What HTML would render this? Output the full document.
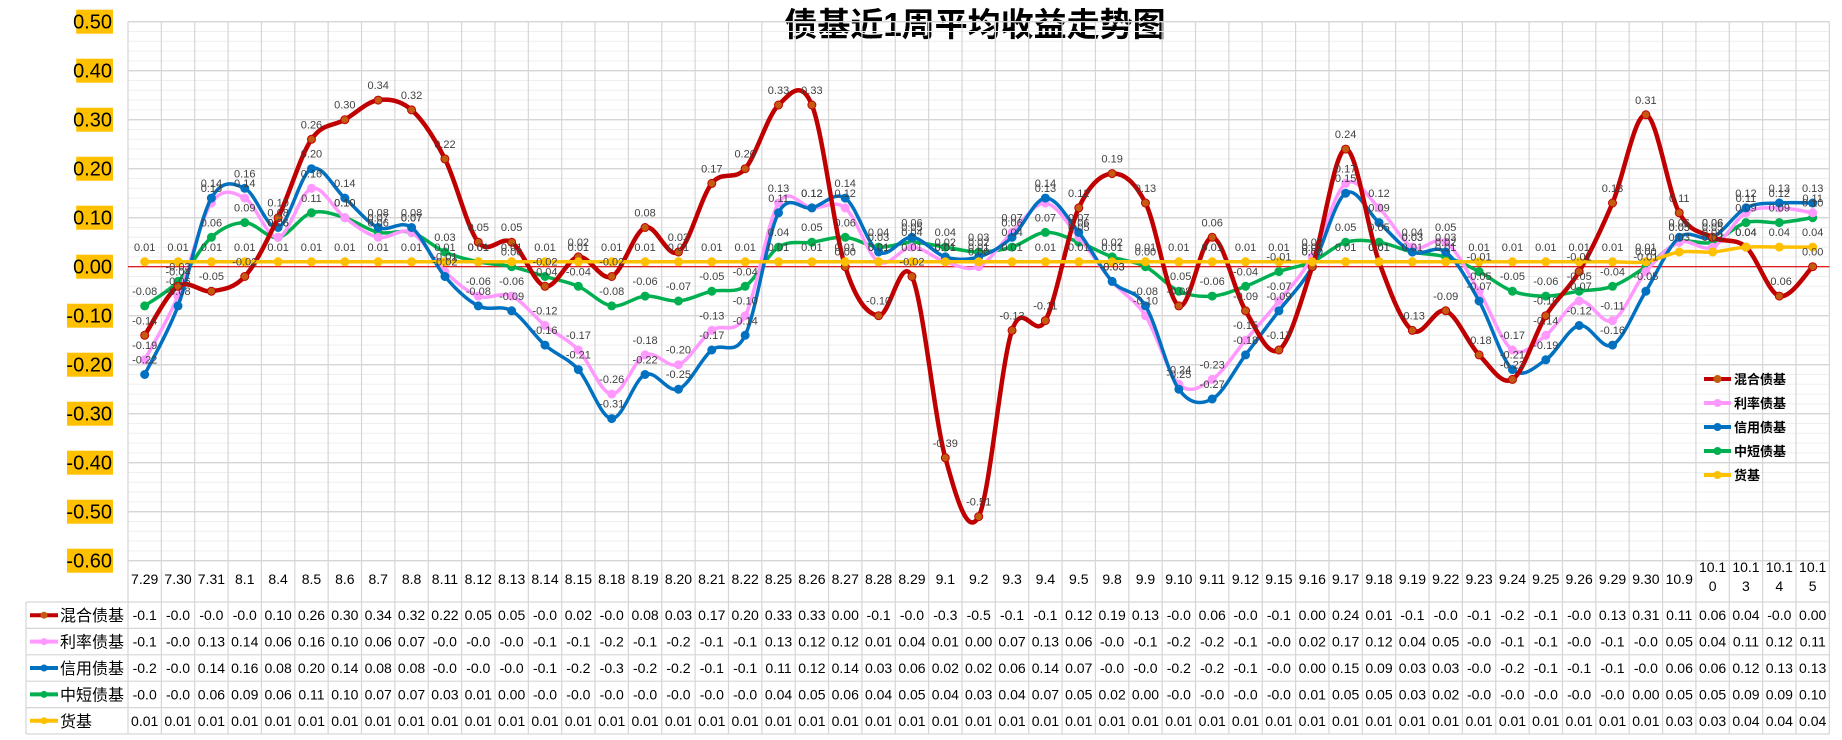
<!DOCTYPE html>
<html><head><meta charset="utf-8">
<style>
html,body{margin:0;padding:0;background:#fff;}
svg{display:block;font-family:"Liberation Sans","Noto Sans CJK SC",sans-serif;}
</style></head>
<body>
<svg id="chart" width="1842" height="740" viewBox="0 0 1842 740" xmlns="http://www.w3.org/2000/svg">
<text x="975" y="36" text-anchor="middle" font-size="33" font-weight="bold" fill="#000" font-family="'Liberation Sans','Noto Sans CJK SC',sans-serif">债基近1周平均收益走势图</text>
<g id="grid"></g><g id="yaxis"></g><g id="series"></g><g id="labels"></g><g id="legend"></g><g id="table"></g>
</svg>
<script>
const categories=["7.29","7.30","7.31","8.1","8.4","8.5","8.6","8.7","8.8","8.11","8.12","8.13","8.14","8.15","8.18","8.19","8.20","8.21","8.22","8.25","8.26","8.27","8.28","8.29","9.1","9.2","9.3","9.4","9.5","9.8","9.9","9.10","9.11","9.12","9.15","9.16","9.17","9.18","9.19","9.22","9.23","9.24","9.25","9.26","9.29","9.30","10.9","10.10","10.13","10.14","10.15"];
const mixedBond=[-0.14,-0.04,-0.05,-0.02,0.10,0.26,0.30,0.34,0.32,0.22,0.05,0.05,-0.04,0.02,-0.02,0.08,0.03,0.17,0.20,0.33,0.33,0.00,-0.10,-0.02,-0.39,-0.51,-0.13,-0.11,0.12,0.19,0.13,-0.08,0.06,-0.09,-0.17,0.00,0.24,0.01,-0.13,-0.09,-0.18,-0.23,-0.10,-0.01,0.13,0.31,0.11,0.06,0.04,-0.06,0.00];
const rateBond=[-0.19,-0.06,0.13,0.14,0.06,0.16,0.10,0.06,0.07,-0.01,-0.06,-0.06,-0.12,-0.17,-0.26,-0.18,-0.20,-0.13,-0.10,0.13,0.12,0.12,0.01,0.04,0.01,0.00,0.07,0.13,0.06,-0.03,-0.10,-0.24,-0.23,-0.15,-0.07,0.02,0.17,0.12,0.04,0.05,-0.05,-0.17,-0.14,-0.07,-0.11,-0.01,0.05,0.04,0.11,0.12,0.11];
const creditBond=[-0.22,-0.08,0.14,0.16,0.08,0.20,0.14,0.08,0.08,-0.02,-0.08,-0.09,-0.16,-0.21,-0.31,-0.22,-0.25,-0.17,-0.14,0.11,0.12,0.14,0.03,0.06,0.02,0.02,0.06,0.14,0.07,-0.03,-0.08,-0.25,-0.27,-0.18,-0.09,0.00,0.15,0.09,0.03,0.03,-0.07,-0.21,-0.19,-0.12,-0.16,-0.05,0.06,0.06,0.12,0.13,0.13];
const shortBond=[-0.08,-0.03,0.06,0.09,0.06,0.11,0.10,0.07,0.07,0.03,0.01,0.00,-0.02,-0.04,-0.08,-0.06,-0.07,-0.05,-0.04,0.04,0.05,0.06,0.04,0.05,0.04,0.03,0.04,0.07,0.05,0.02,0.00,-0.05,-0.06,-0.04,-0.01,0.01,0.05,0.05,0.03,0.02,-0.01,-0.05,-0.06,-0.05,-0.04,0.00,0.05,0.05,0.09,0.09,0.10];
const moneyFund=[0.01,0.01,0.01,0.01,0.01,0.01,0.01,0.01,0.01,0.01,0.01,0.01,0.01,0.01,0.01,0.01,0.01,0.01,0.01,0.01,0.01,0.01,0.01,0.01,0.01,0.01,0.01,0.01,0.01,0.01,0.01,0.01,0.01,0.01,0.01,0.01,0.01,0.01,0.01,0.01,0.01,0.01,0.01,0.01,0.01,0.01,0.03,0.03,0.04,0.04,0.04];
const seriesNames=["混合债基","利率债基","信用债基","中短债基","货基"];
const yTicks=[0.5,0.4,0.3,0.2,0.1,0,-0.1,-0.2,-0.3,-0.4,-0.5,-0.6];

const NS="http://www.w3.org/2000/svg";
const PL=128, CW=33.36, Y0=266.7, K=490, YTOP=21.7, YBOT=560.7;
const n=categories.length, PR=PL+CW*n;
const x=i=>PL+CW*(i+0.5);
const y=v=>Y0-v*K;
function mk(tag,attrs,parent){const e=document.createElementNS(NS,tag);for(const k in attrs)e.setAttribute(k,attrs[k]);parent.appendChild(e);return e;}
const grid=document.getElementById('grid');
for(let v=0.5;v>=-0.6-1e-9;v-=0.02){
  const l=mk('line',{x1:PL,x2:PR,y1:y(v),y2:y(v),stroke:'#efefef','stroke-width':1},grid);
  
  
}
const yaxis=document.getElementById('yaxis');
yTicks.forEach(t=>{
  const l=mk('line',{x1:PL,x2:PR,y1:y(t),y2:y(t),stroke:'#d6d6d6','stroke-width':1.3},grid);
  
  
  const s=t.toFixed(2);
  const w=s.length*9.2;
  const r=mk('rect',{x:113-w,y:y(t)-12,width:w,height:24,fill:'#ffc000'},yaxis);
  
  
  const tx=mk('text',{x:112,y:y(t)+7,'text-anchor':'end','font-size':20,fill:'#000'},yaxis);
  tx.textContent=s;
  
  
});
for(let i=0;i<=n;i++){
  const l=mk('line',{x1:PL+CW*i,x2:PL+CW*i,y1:YTOP,y2:734,stroke:'#d6d6d6','stroke-width':1.2},grid);
  
  
}
const zl=mk('line',{x1:PL,x2:PR,y1:y(0),y2:y(0),stroke:'#e00000','stroke-width':1.2},grid);



const allSeries=[mixedBond,rateBond,creditBond,shortBond,moneyFund];
const colors=['#c00000','#ff99ff','#0070c0','#00b050','#ffc000'];
const widths=[4.5,3.5,3.5,3.5,3.5];
const keys=['mixed-bond','rate-bond','credit-bond','short-bond','money-fund'];
function smoothPath(vals){
  const p=vals.map((v,i)=>[x(i),y(v)]);
  let d='M'+p[0][0]+','+p[0][1];
  for(let i=0;i<p.length-1;i++){
    const p0=p[i-1]||p[i],p1=p[i],p2=p[i+1],p3=p[i+2]||p[i+1];
    const c1=[p1[0]+(p2[0]-p0[0])/6,p1[1]+(p2[1]-p0[1])/6];
    const c2=[p2[0]-(p3[0]-p1[0])/6,p2[1]-(p3[1]-p1[1])/6];
    d+=' C'+c1[0]+','+c1[1]+' '+c2[0]+','+c2[1]+' '+p2[0]+','+p2[1];
  }
  return d;
}
const sg=document.getElementById('series'), lg=document.getElementById('labels');
const order=[3,1,2,0,4];
order.forEach(s=>{
  const vals=allSeries[s];
  const g=mk('g',{},sg);
  
  
  const p=mk('path',{d:smoothPath(vals),fill:'none',stroke:colors[s],'stroke-width':widths[s],'stroke-linejoin':'round'},g);
  
  
  vals.forEach((v,i)=>{
    const c=mk('circle',{cx:x(i),cy:y(v),r:4,fill:s===0?'#c55a11':colors[s],stroke:colors[s],'stroke-width':1},g);
    
    
  });
});
allSeries.forEach((vals,s)=>{
  vals.forEach((v,i)=>{
    const t=mk('text',{x:x(i),y:y(v)-11,'text-anchor':'middle','font-size':11,fill:'#404040'},lg);
    t.textContent=v.toFixed(2);
    
    
  });
});
const leg=document.getElementById('legend');
seriesNames.forEach((nm,s)=>{
  const yy=379+s*24;
  const g=mk('g',{},leg);
  
  
  mk('line',{x1:1704,x2:1731,y1:yy,y2:yy,stroke:colors[s],'stroke-width':4},g);
  mk('circle',{cx:1717.5,cy:yy,r:4,fill:s===0?'#c55a11':colors[s]},g);
  const t=mk('text',{x:1734,y:yy+5,'font-size':13,'font-weight':'bold',fill:'#000'},g);
  t.textContent=nm;
});
const tb=document.getElementById('table');
function fmt(v){if(v<0){return '-'+(Math.trunc(Math.abs(v)*10)/10).toFixed(1);}return v.toFixed(2);}
categories.forEach((c,i)=>{
  const parts=c.length>4?[c.slice(0,4),c.slice(4)]:[c];
  parts.forEach((p,k)=>{
    const t=mk('text',{x:x(i),y:(parts.length>1?572+k*19:584),'text-anchor':'middle','font-size':14,fill:'#000'},tb);
    t.textContent=p;
    
    
  });
});
const rowTop=602, RH=26.4;
for(let r=0;r<=5;r++){
  const l=mk('line',{x1:26,x2:PR,y1:rowTop+r*RH,y2:rowTop+r*RH,stroke:'#d6d6d6','stroke-width':1.2},tb);
  
  
}
const vl=mk('line',{x1:26,x2:26,y1:rowTop,y2:rowTop+5*RH,stroke:'#d6d6d6','stroke-width':1.2},tb);


allSeries.forEach((vals,s)=>{
  const cy=rowTop+s*RH+RH/2;
  const g=mk('g',{},tb);
  
  
  mk('line',{x1:30,x2:58,y1:cy,y2:cy,stroke:colors[s],'stroke-width':4},g);
  mk('circle',{cx:44,cy:cy,r:3.5,fill:s===0?'#c55a11':colors[s]},g);
  const t=mk('text',{x:60,y:cy+6,'font-size':16,fill:'#000'},g);
  t.textContent=seriesNames[s];
  vals.forEach((v,i)=>{
    const tt=mk('text',{x:x(i),y:cy+5,'text-anchor':'middle','font-size':14,fill:'#000'},g);
    tt.textContent=fmt(v);
  });
});
</script>
</body></html>
